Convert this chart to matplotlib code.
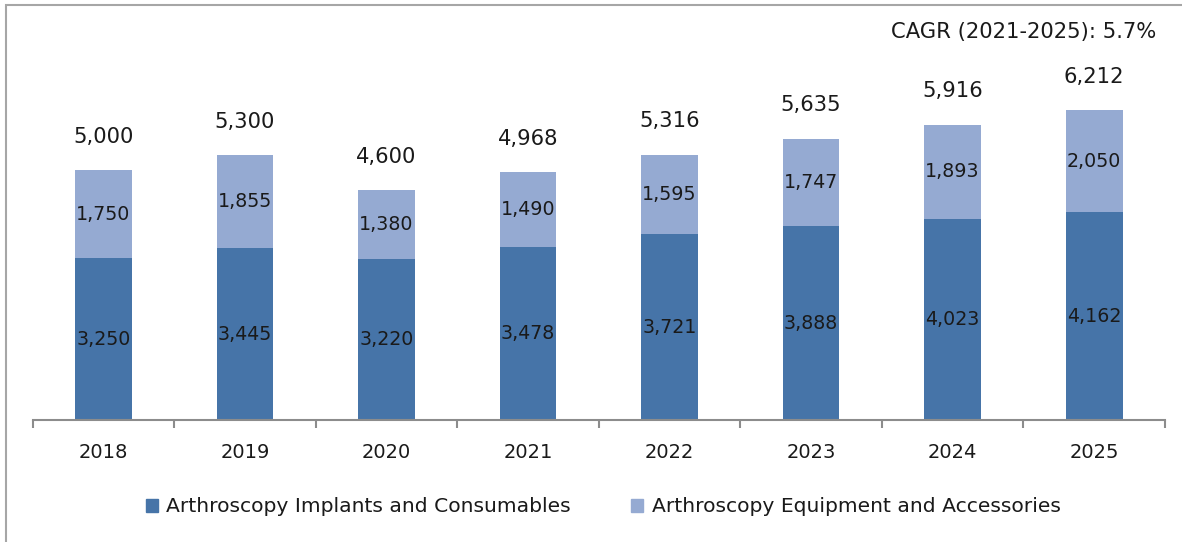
import numpy as np
import matplotlib.pyplot as plt
from matplotlib.patches import Patch, Rectangle

years = ['2018', '2019', '2020', '2021', '2022', '2023', '2024', '2025']
implants = [3250, 3445, 3220, 3478, 3721, 3888, 4023, 4162]
equipment = [1750, 1855, 1380, 1490, 1595, 1747, 1893, 2050]
totals = [5000, 5300, 4600, 4968, 5316, 5635, 5916, 6212]
series_names = ['Arthroscopy Implants and Consumables',
                'Arthroscopy Equipment and Accessories']
cagr_text = 'CAGR (2021-2025): 5.7%'

dark = '#4674A8'
light = '#95AAD2'
grey = '#8C8C8C'

plt.rcParams['font.family'] = 'DejaVu Sans'

fig = plt.figure(figsize=(11.82, 5.42), dpi=100)
ax = fig.add_axes([0.0275, 0.2242, 0.9581, 0.739])

x = np.arange(len(years))
w = 0.4
ax.bar(x, implants, w, color=dark, label=series_names[0])
ax.bar(x, equipment, w, bottom=implants, color=light, label=series_names[1])

for i in range(len(years)):
    ax.text(x[i], implants[i] / 2, f'{implants[i]:,}', ha='center', va='center',
            fontsize=13.7, color='#1a1a1a')
    ax.text(x[i], implants[i] + equipment[i] / 2, f'{equipment[i]:,}',
            ha='center', va='center', fontsize=13.7, color='#1a1a1a')
    ax.annotate(f'{totals[i]:,}', (x[i], implants[i] + equipment[i]),
                xytext=(0, 24), textcoords='offset points',
                ha='center', va='center', fontsize=15.2, color='#1a1a1a')

ax.set_xlim(-0.5, len(years) - 0.5)
ax.set_ylim(0, 8010)
for s in ['top', 'right', 'left']:
    ax.spines[s].set_visible(False)
ax.spines['bottom'].set_color(grey)
ax.spines['bottom'].set_linewidth(1.5)
ax.set_yticks([])
ax.set_xticks(x)
ax.set_xticklabels(years, fontsize=14, color='#1a1a1a')
ax.set_xticks(np.arange(-0.5, len(years)), minor=True)
ax.tick_params(axis='x', which='major', length=0, pad=16)
ax.tick_params(axis='x', which='minor', length=6, width=1.5, color=grey)

fig.text(1156 / 1182, 1 - 32 / 542, cagr_text, ha='right', va='center',
         fontsize=15.2, color='#1a1a1a')

handles = [Patch(color=dark), Patch(color=light)]
fig.legend(handles, series_names, loc='center', bbox_to_anchor=(603 / 1182, 35 / 542),
           ncol=2, frameon=False, fontsize=14.6, handlelength=0.6, handleheight=0.6,
           handletextpad=0.4, columnspacing=3.0, labelcolor='#1a1a1a')

# thin frame around the whole chart area
fig.patches.append(Rectangle((6 / 1182, -0.05), 1.2, 1 - 5 / 542 + 0.05,
                             transform=fig.transFigure, fill=False,
                             edgecolor='#A6A6A6', linewidth=1.5))

fig.savefig('out.png', dpi=100)
